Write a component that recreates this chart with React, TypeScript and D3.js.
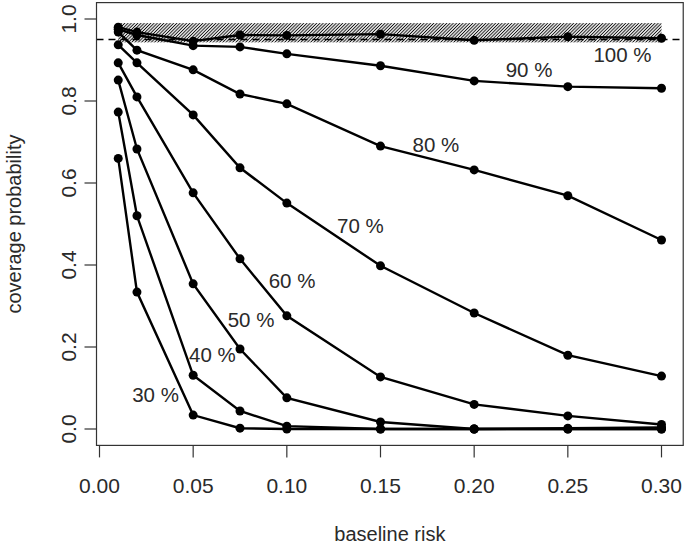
import { useEffect, useRef } from "react"
import * as d3 from "d3"

// baseline risk values (x)
const risks = [0.01, 0.02, 0.05, 0.075, 0.1, 0.15, 0.2, 0.25, 0.3]

// coverage probability per level
const cov30 = [0.66, 0.334, 0.034, 0.002, 0.0, 0.0, 0.0, 0.0, 0.0]
const cov40 = [0.773, 0.52, 0.131, 0.044, 0.007, 0.0, 0.0, 0.0, 0.0]
const cov50 = [0.851, 0.683, 0.354, 0.195, 0.076, 0.017, 0.0, 0.002, 0.004]
const cov60 = [0.893, 0.81, 0.576, 0.415, 0.276, 0.127, 0.06, 0.032, 0.011]
const cov70 = [0.937, 0.893, 0.766, 0.637, 0.551, 0.398, 0.283, 0.18, 0.129]
const cov80 = [0.968, 0.924, 0.876, 0.817, 0.793, 0.69, 0.632, 0.569, 0.461]
const cov90 = [0.975, 0.961, 0.935, 0.932, 0.915, 0.886, 0.849, 0.835, 0.831]
const cov100 = [0.98, 0.968, 0.946, 0.961, 0.96, 0.963, 0.948, 0.957, 0.953]

const levelNames = ["30 %", "40 %", "50 %", "60 %", "70 %", "80 %", "90 %", "100 %"]
// where each label sits (data coords, baseline)
const labelX = [0.0299, 0.0603, 0.0809, 0.1028, 0.1393, 0.1796, 0.2293, 0.2792]
const labelY = [0.067, 0.163, 0.249, 0.344, 0.478, 0.676, 0.859, 0.896]

const xTicks = [0, 0.05, 0.1, 0.15, 0.2, 0.25, 0.3]
const yTicks = [0, 0.2, 0.4, 0.6, 0.8, 1.0]

// nominal level and simulation band
const nominal = 0.95
const band = [0.943, 0.99]

const FONT = "'Liberation Sans', Arial, sans-serif"

export default function App() {
  const ref = useRef<SVGSVGElement>(null)

  useEffect(() => {
    const svg = d3.select(ref.current)
    svg.selectAll("*").remove()

    const x = d3.scaleLinear().domain([0, 0.3]).range([99.5, 661.5])
    const y = d3.scaleLinear().domain([0, 1]).range([429, 19])

    const x0 = x(0.01 - 0.0116)
    const x1 = x(0.3 + 0.0116)
    const y0 = y(-0.04)
    const y1 = y(1.04)

    svg.append("rect")
      .attr("width", 685)
      .attr("height", 544)
      .attr("fill", "#ffffff")

    const defs = svg.append("defs")
    const pat = defs.append("pattern")
      .attr("id", "hatch")
      .attr("patternUnits", "userSpaceOnUse")
      .attr("width", 2.3)
      .attr("height", 10)
      .attr("patternTransform", "rotate(45)")
    pat.append("line")
      .attr("x1", 1.15).attr("y1", 0)
      .attr("x2", 1.15).attr("y2", 10)
      .attr("stroke", "#111")
      .attr("stroke-width", 1)

    // hatched band
    svg.append("rect")
      .attr("x", x(risks[0]))
      .attr("y", y(band[1]))
      .attr("width", x(risks[risks.length - 1]) - x(risks[0]))
      .attr("height", y(band[0]) - y(band[1]))
      .attr("fill", "url(#hatch)")

    // nominal level
    svg.append("line")
      .attr("x1", x0).attr("x2", x1)
      .attr("y1", y(nominal)).attr("y2", y(nominal))
      .attr("stroke", "#000")
      .attr("stroke-width", 1.6)
      .attr("stroke-dasharray", "7,5")

    const series = [cov30, cov40, cov50, cov60, cov70, cov80, cov90, cov100]
    const line = d3.line<number>()
      .x((_, i) => x(risks[i]))
      .y(d => y(d))

    series.forEach(vals => {
      svg.append("path")
        .attr("d", line(vals))
        .attr("fill", "none")
        .attr("stroke", "#000")
        .attr("stroke-width", 2.4)
      svg.append("g")
        .selectAll("circle")
        .data(vals)
        .join("circle")
        .attr("cx", (_, i) => x(risks[i]))
        .attr("cy", d => y(d))
        .attr("r", 4.5)
        .attr("fill", "#000")
    })

    // level labels
    svg.append("g")
      .selectAll("text")
      .data(levelNames)
      .join("text")
      .attr("x", (_, i) => x(labelX[i]))
      .attr("y", (_, i) => y(labelY[i]))
      .attr("text-anchor", "middle")
      .attr("font-family", FONT)
      .attr("font-size", 20.5)
      .attr("fill", "#2a2a2a")
      .text(d => d)

    // box
    svg.append("rect")
      .attr("x", x0).attr("y", y1)
      .attr("width", x1 - x0).attr("height", y0 - y1)
      .attr("fill", "none")
      .attr("stroke", "#333")
      .attr("stroke-width", 1.2)

    // x axis
    const gx = svg.append("g")
    gx.selectAll("line")
      .data(xTicks)
      .join("line")
      .attr("x1", d => x(d)).attr("x2", d => x(d))
      .attr("y1", y0).attr("y2", y0 + 12)
      .attr("stroke", "#333")
      .attr("stroke-width", 1.2)
    gx.selectAll("text")
      .data(xTicks)
      .join("text")
      .attr("x", d => x(d))
      .attr("y", 493)
      .attr("text-anchor", "middle")
      .attr("font-family", FONT)
      .attr("font-size", 21)
      .attr("fill", "#2a2a2a")
      .text(d => d3.format(".2f")(d))

    // y axis
    const gy = svg.append("g")
    gy.selectAll("line")
      .data(yTicks)
      .join("line")
      .attr("x1", x0 - 12).attr("x2", x0)
      .attr("y1", d => y(d)).attr("y2", d => y(d))
      .attr("stroke", "#333")
      .attr("stroke-width", 1.2)
    gy.selectAll("text")
      .data(yTicks)
      .join("text")
      .attr("transform", d => `translate(76,${y(d)}) rotate(-90)`)
      .attr("text-anchor", "middle")
      .attr("font-family", FONT)
      .attr("font-size", 21)
      .attr("fill", "#2a2a2a")
      .text(d => d3.format(".1f")(d))

    svg.append("text")
      .attr("x", (x0 + x1) / 2)
      .attr("y", 541)
      .attr("text-anchor", "middle")
      .attr("font-family", FONT)
      .attr("font-size", 20)
      .attr("fill", "#2a2a2a")
      .text("baseline risk")

    svg.append("text")
      .attr("transform", `translate(21,${(y0 + y1) / 2}) rotate(-90)`)
      .attr("text-anchor", "middle")
      .attr("font-family", FONT)
      .attr("font-size", 20)
      .attr("fill", "#2a2a2a")
      .text("coverage probability")
  }, [])

  return (
    <svg
      ref={ref}
      width={685}
      height={544}
      style={{ position: "absolute", left: 0, top: 0 }}
    />
  )
}
